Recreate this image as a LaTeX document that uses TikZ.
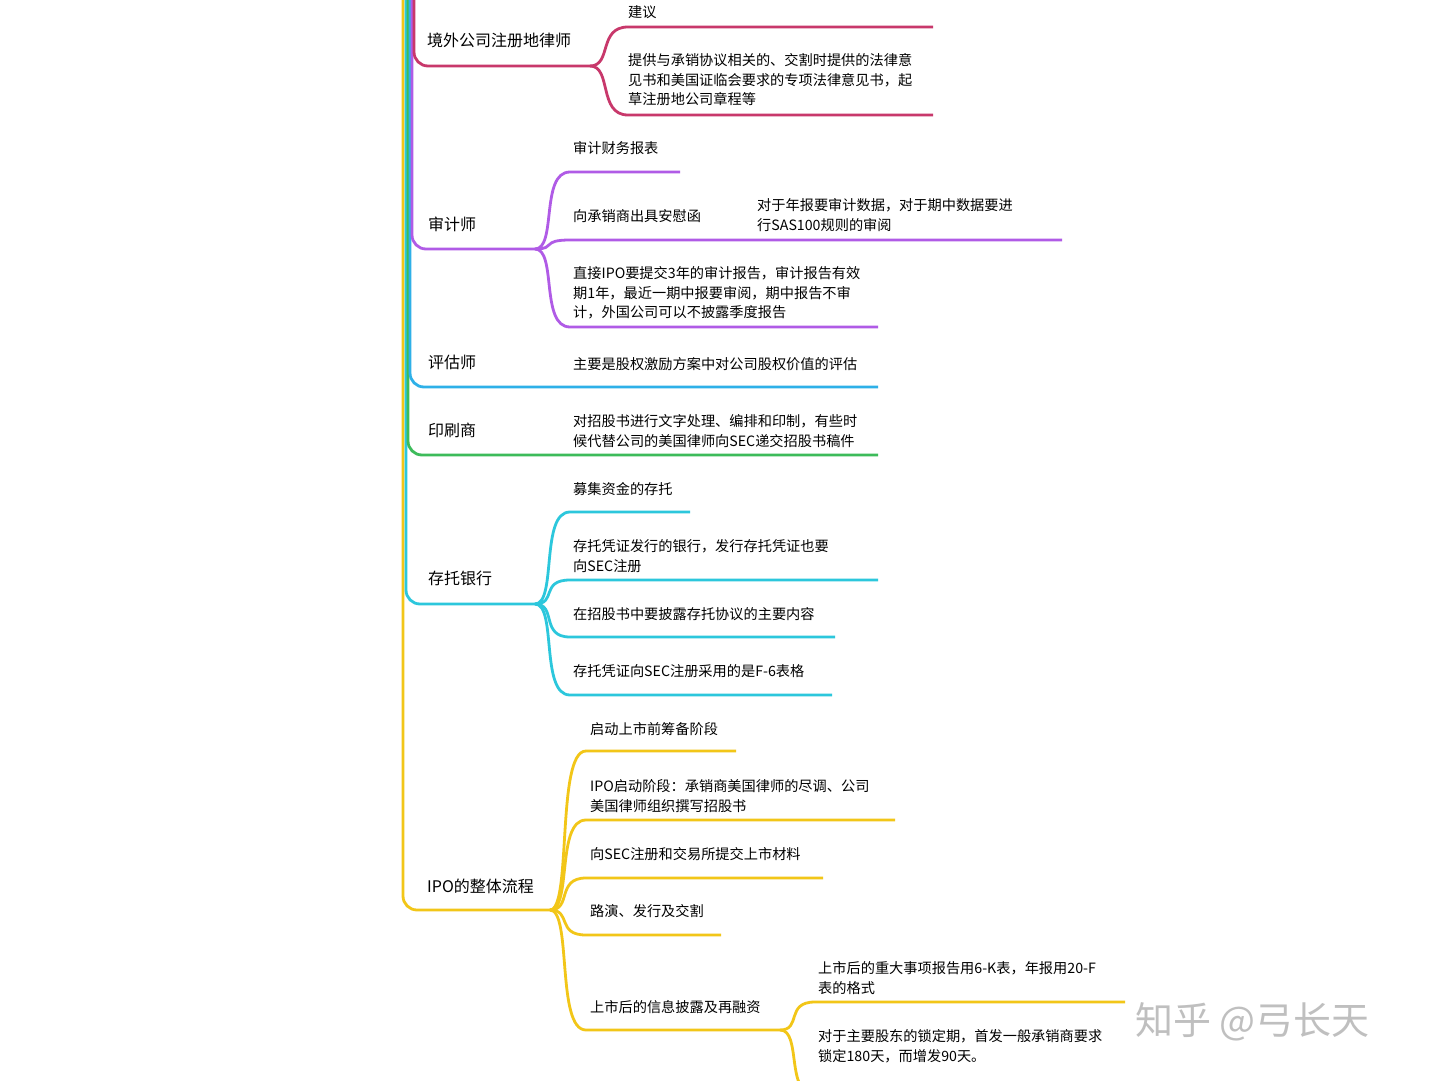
\documentclass[tikz,border=0pt]{standalone}
\usepackage{fontspec}
\setmainfont{Noto Sans CJK SC}
\definecolor{cpink}{HTML}{C8386B}
\definecolor{cpurp}{HTML}{B05BE6}
\definecolor{cblue}{HTML}{2EB0E8}
\definecolor{cgreen}{HTML}{3DBB5A}
\definecolor{ccyan}{HTML}{2CC7DC}
\definecolor{cyell}{HTML}{F2C618}
\tikzset{
 lab/.style={anchor=west,inner sep=0pt,font=\fontsize{16pt}{20pt}\selectfont},
 txt/.style={anchor=west,inner sep=0pt,align=left,font=\fontsize{14.2pt}{19.5pt}\selectfont},
 br/.style={line width=2.8pt,rounded corners=14pt},
 cc/.style={line width=2.8pt},
}
\newcommand{\kid}[4]{% parent, child start coord name, end x, colour
 \draw[cc,#4] (#1) .. controls ([xshift=22pt]#1) and ([xshift=-30pt]#2) .. (#2) -- ++(#3,0);}
\begin{document}
\begin{tikzpicture}[x=1pt,y=-1pt]
\useasboundingbox (0,0) rectangle (1440,1081);
\fill[white] (0,0) rectangle (1440,1081);
% trunks
\coordinate (pk) at (590,66);
\coordinate (pu) at (535,249);
\coordinate (bl) at (878,387);
\coordinate (gr) at (878,455);
\coordinate (cy) at (535,604);
\coordinate (ye) at (550,910);
\draw[br,cyell] (403,0) |- (ye);
\draw[br,ccyan] (406,0) |- (cy);
\draw[br,cgreen] (408,0) |- (gr);
\draw[br,cblue] (410,0) |- (bl);
\draw[br,cpurp] (412,0) |- (pu);
\draw[br,cpink] (414,0) |- (pk);
% labels
\node[lab] (l1) at (427,40) {境外公司注册地律师};
\node[lab] (l2) at (428,224) {审计师};
\node[lab] (l3) at (428,362) {评估师};
\node[lab] (l4) at (428,430) {印刷商};
\node[lab] (l5) at (428,578) {存托银行};
\node[lab] (l6) at (427,886) {IPO的整体流程};
% pink
\coordinate (pk1) at (628,27); \coordinate (pk2) at (628,115);
\kid{pk}{pk1}{305}{cpink} \kid{pk}{pk2}{305}{cpink}
\node[txt] (t11) at (628,12) {建议};
\node[txt] (t12) at (628,80) {提供与承销协议相关的、交割时提供的法律意\\见书和美国证临会要求的专项法律意见书，起\\草注册地公司章程等};
% purple
\coordinate (pu1) at (570,172); \coordinate (pu2) at (570,240); \coordinate (pu3) at (570,327);
\kid{pu}{pu1}{110}{cpurp} \kid{pu}{pu2}{492}{cpurp} \kid{pu}{pu3}{308}{cpurp}
\node[txt] (t21) at (573,148) {审计财务报表};
\node[txt] (t22) at (573,216) {向承销商出具安慰函};
\node[txt] (t23) at (757,215) {对于年报要审计数据，对于期中数据要进\\行SAS100规则的审阅};
\node[txt] (t24) at (573,293) {直接IPO要提交3年的审计报告，审计报告有效\\期1年，最近一期中报要审阅，期中报告不审\\计，外国公司可以不披露季度报告};
% blue, green
\node[txt] (t31) at (573,364) {主要是股权激励方案中对公司股权价值的评估};
\node[txt] (t41) at (573,431) {对招股书进行文字处理、编排和印制，有些时\\候代替公司的美国律师向SEC递交招股书稿件};
% cyan
\coordinate (cy1) at (570,512); \coordinate (cy2) at (570,580); \coordinate (cy3) at (570,637); \coordinate (cy4) at (570,695);
\kid{cy}{cy1}{120}{ccyan} \kid{cy}{cy2}{308}{ccyan} \kid{cy}{cy3}{265}{ccyan} \kid{cy}{cy4}{262}{ccyan}
\node[txt] (t51) at (573,489) {募集资金的存托};
\node[txt] (t52) at (573,556) {存托凭证发行的银行，发行存托凭证也要\\向SEC注册};
\node[txt] (t53) at (573,614) {在招股书中要披露存托协议的主要内容};
\node[txt] (t54) at (573,671) {存托凭证向SEC注册采用的是F-6表格};
% yellow
\coordinate (ye1) at (586,751); \coordinate (ye2) at (586,820); \coordinate (ye3) at (586,878); \coordinate (ye4) at (586,935); \coordinate (ye5) at (586,1030);
\kid{ye}{ye1}{150}{cyell} \kid{ye}{ye2}{309}{cyell} \kid{ye}{ye3}{237}{cyell} \kid{ye}{ye4}{135}{cyell} \kid{ye}{ye5}{194}{cyell}
\coordinate (ye5e) at (780,1030);
\node[txt] (t61) at (590,729) {启动上市前筹备阶段};
\node[txt] (t62) at (590,796) {IPO启动阶段：承销商美国律师的尽调、公司\\美国律师组织撰写招股书};
\node[txt] (t63) at (590,854) {向SEC注册和交易所提交上市材料};
\node[txt] (t64) at (590,911) {路演、发行及交割};
\node[txt] (t65) at (590,1007) {上市后的信息披露及再融资};
\coordinate (ys1) at (815,1002); \coordinate (ys2) at (815,1095);
\kid{ye5e}{ys1}{310}{cyell} \kid{ye5e}{ys2}{310}{cyell}
\node[txt] (t66) at (818,978) {上市后的重大事项报告用6-K表，年报用20-F\\表的格式};
\node[txt] (t67) at (818,1046) {对于主要股东的锁定期，首发一般承销商要求\\锁定180天，而增发90天。};
\node[anchor=west,inner sep=0pt,text=black!25,font=\fontsize{38pt}{40pt}\selectfont] (wm) at (1135,1022) {知乎 @弓长天};
\end{tikzpicture}
\end{document}
